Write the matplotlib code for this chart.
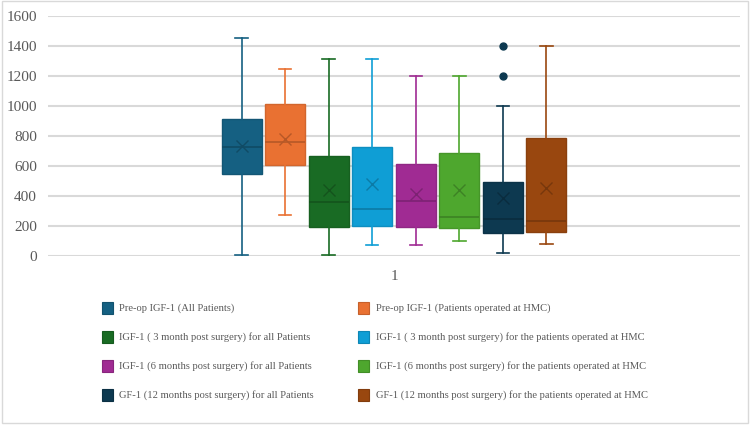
import matplotlib
matplotlib.use("Agg")
import matplotlib.pyplot as plt
from matplotlib.patches import Rectangle
import matplotlib.colors as mcolors

plt.rcParams['font.family'] = ['Liberation Serif', 'DejaVu Serif']

labels = [
    "Pre-op IGF-1 (All Patients)",
    "Pre-op IGF-1 (Patients operated at HMC)",
    "IGF-1 ( 3 month post surgery) for all Patients",
    "IGF-1 ( 3 month post surgery) for the patients operated at HMC",
    "IGF-1 (6 months post surgery) for all Patients",
    "IGF-1 (6 months post surgery) for the patients operated at HMC",
    "GF-1 (12 months post surgery) for all Patients",
    "GF-1 (12 months post surgery) for the patients operated at HMC",
]
whisker_low = [5, 271, 5, 73, 73, 102, 22, 82]
q1 = [547, 607, 196, 202, 196, 189, 151, 160]
median = [729, 758, 358, 316, 367, 258, 249, 231]
q3 = [913, 1013, 667, 724, 613, 684, 495, 784]
whisker_high = [1453, 1245, 1316, 1316, 1198, 1200, 1002, 1400]
means = [733, 778, 440, 482, 413, 438, 384, 455]
outliers = [[], [], [], [], [], [], [1400, 1200], []]
category = ["1"]
yticks = [0, 200, 400, 600, 800, 1000, 1200, 1400, 1600]

colors = ["#156082", "#E97132", "#196B24", "#0F9ED5",
          "#A02B93", "#4EA72E", "#0D3950", "#99470F"]

def darker(c, f=0.78):
    r, g, b = mcolors.to_rgb(c)
    return (r * f, g * f, b * f)

fig = plt.figure(figsize=(7.5, 4.26), dpi=100)
ax = fig.add_axes([48/750, 1 - 256/426, (740-48)/750, 240/426])

spacing = 0.0629
width = 0.0578
positions = [1 + (i - 3.5) * spacing for i in range(8)]

for i in range(8):
    st = dict(whislo=whisker_low[i], q1=q1[i], med=median[i], q3=q3[i],
              whishi=whisker_high[i], mean=means[i], fliers=outliers[i])
    c = colors[i]
    dc = darker(c)
    ax.bxp([st], positions=[positions[i]], widths=width, showmeans=True,
           patch_artist=True, capwidths=[0.018],
           boxprops=dict(facecolor=c, edgecolor=darker(c, 0.9), linewidth=1.0),
           whiskerprops=dict(color=c, linewidth=1.2),
           capprops=dict(color=c, linewidth=1.2),
           medianprops=dict(color=dc, linewidth=1.2),
           meanprops=dict(marker='x', markeredgecolor=dc, markersize=8, markeredgewidth=1.0),
           flierprops=dict(marker='o', markerfacecolor=c, markeredgecolor=c, markersize=5),
           zorder=3)

ax.set_xlim(0.5, 1.5)
ax.set_ylim(0, 1600)
ax.set_yticks(yticks)
ax.set_yticklabels([str(v) for v in yticks])
ax.set_xticks([1])
ax.set_xticklabels(category)
ax.yaxis.grid(True, color="#d9d9d9", linewidth=1.5, zorder=0)
ax.set_axisbelow(True)
for s in ax.spines.values():
    s.set_visible(False)
ax.tick_params(axis='both', length=0, labelsize=11, colors="#595959", pad=8)
ax.tick_params(axis='x', pad=10)

# legend
rows_y = [308, 337, 366, 395]
col_marker_x = [102, 358]
col_text_x = [119, 376]
for i, lab in enumerate(labels):
    r, col = i // 2, i % 2
    yc = rows_y[r]
    mx = col_marker_x[col]
    fig.patches.append(Rectangle((mx/750, 1 - (yc + 6)/426), 11/750, 12/426,
                                 transform=fig.transFigure, facecolor=colors[i],
                                 edgecolor=darker(colors[i], 0.85), linewidth=0.8))
    fig.text(col_text_x[col]/750, 1 - yc/426, lab, fontsize=7.6, color="#595959",
             va='center', ha='left')

# outer border
fig.patches.append(Rectangle((0.002, 0.008), 0.995, 0.99, transform=fig.transFigure,
                             fill=False, edgecolor="#d9d9d9", linewidth=1.0))

fig.savefig("out.png", dpi=100)
